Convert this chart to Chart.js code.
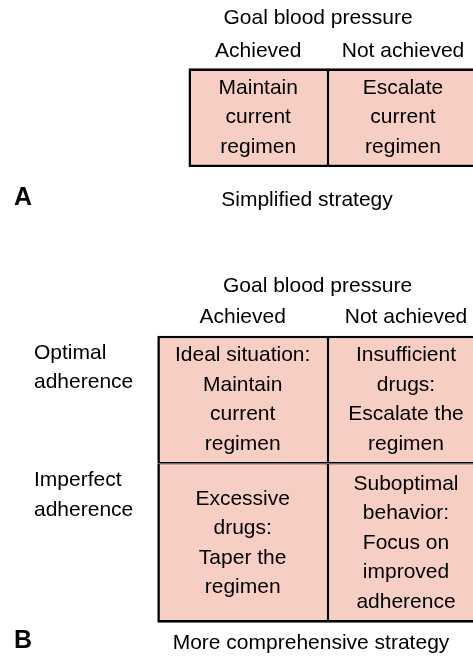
<!DOCTYPE html>
<html>
<head>
<meta charset="utf-8">
<script src="https://cdn.jsdelivr.net/npm/chart.js@4.4.1/dist/chart.umd.min.js"></script>
<style>
  html, body { margin: 0; padding: 0; background: #fff; overflow: hidden; }
  #wrap { position: relative; width: 473px; height: 659px; overflow: hidden; }
  canvas { position: absolute; left: 0; }
  #panelA { top: 0; }
  #panelB { top: 232px; }
</style>
</head>
<body>
<div id="wrap">
  <canvas id="panelA" width="520" height="232"></canvas>
  <canvas id="panelB" width="520" height="427"></canvas>
</div>
<script>
// columns = goal blood pressure, rows = adherence
const columnLabels = ["Achieved", "Not achieved"];
const rowLabels = [["Optimal", "adherence"], ["Imperfect", "adherence"]];
const axisTitle = "Goal blood pressure";

// panel A - one row of advice per column
const cellsA = [
    ["Maintain", "current", "regimen"],
    ["Escalate", "current", "regimen"]
];

// panel B - rows x columns
const cellsB = [
    [["Ideal situation:", "Maintain", "current", "regimen"], ["Insufficient", "drugs:", "Escalate the", "regimen"]],
    [["Excessive", "drugs:", "Taper the", "regimen"], ["Suboptimal", "behavior:", "Focus on", "improved", "adherence"]]
];

const captionA = ["A", "Simplified strategy"];
const captionB = ["B", "More comprehensive strategy"];

const FONT = "'Liberation Sans', Arial, Helvetica, sans-serif";
const FILL = "#f6cec4";
const LINE = "#000";
const EDGE = 2.6, INNER = 1.3;
const LINE_H = 29.5;

Chart.defaults.font.family = FONT;
Chart.defaults.color = "#000";

// row height follows the number of text lines in that row
const rowSizeB = cellsB.map(row => Math.max(...row.map(c => c.length)));
const rowSizeA = Math.max(...cellsA.map(c => c.length));

const sides = (col, row, nRows) => ({
    left: col === 0 ? EDGE : INNER,
    right: col === columnLabels.length - 1 ? EDGE : INNER,
    top: row === 0 ? EDGE : INNER,
    bottom: row === nRows - 1 ? EDGE : INNER
});

// draws the advice text inside each cell + free labels
const cellText = {
    id: "cellText",
    afterDatasetsDraw(chart) {
        const ctx = chart.ctx;
        ctx.save();
        ctx.fillStyle = "#000";
        ctx.textAlign = "center";
        ctx.textBaseline = "middle";
        ctx.font = "21px " + FONT;
        chart.data.datasets.forEach((ds, i) => {
            chart.getDatasetMeta(i).data.forEach((bar, j) => {
                if (ds.data[j] == null) return;
                const cy = (bar.y + bar.base) / 2;
                const n = ds.lines.length;
                ds.lines.forEach((t, k) => {
                    ctx.fillText(t, bar.x, cy + (k - (n - 1) / 2) * LINE_H);
                });
            });
        });
        const items = chart.options.plugins.cellText.items || [];
        items.forEach(it => {
            ctx.font = (it.bold ? "bold " : "") + it.size + "px " + FONT;
            ctx.textAlign = it.align || "center";
            ctx.fillText(it.text, it.x, it.y);
        });
        ctx.restore();
    }
};

const barStyle = {
    backgroundColor: FILL,
    borderColor: LINE,
    borderSkipped: false,
    inflateAmount: 0,
    grouped: false,
    clip: false
};

const topAxis = (height, pad) => ({
    type: "category",
    position: "top",
    stacked: true,
    grid: { display: false, drawTicks: false },
    border: { display: false },
    ticks: { padding: pad, font: { size: 21, lineHeight: 1.2 }, maxRotation: 0, autoSkip: false },
    afterFit: s => { s.height = height; s.paddingLeft = 0; s.paddingRight = 0; }
});

// ---- Panel A ----
const widthsA = [139.5, 150];
new Chart(document.getElementById("panelA"), {
    type: "bar",
    data: {
        labels: columnLabels,
        datasets: cellsA.map((lines, c) => Object.assign({
            data: columnLabels.map((_, i) => i === c ? rowSizeA : null),
            lines: lines,
            borderWidth: sides(c, 0, 1),
            barThickness: widthsA[c]
        }, barStyle))
    },
    options: {
        responsive: false,
        animation: false,
        layout: { padding: { left: 185.875, right: 44.625, top: 0, bottom: 65 } },
        scales: {
            x: topAxis(68.3, 4),
            y: { display: false, min: 0, max: rowSizeA, stacked: true }
        },
        plugins: {
            legend: { display: false },
            tooltip: { enabled: false },
            cellText: {
                items: [
                    { text: axisTitle, x: 318, y: 18, size: 21 },
                    { text: captionA[0], x: 14, y: 198, size: 25, bold: true, align: "left" },
                    { text: captionA[1], x: 307, y: 200, size: 21 }
                ]
            }
        }
    },
    plugins: [cellText]
});

// ---- Panel B ----
const widthsB = [170.7, 156];
const totalB = rowSizeB.reduce((a, b) => a + b, 0);
// value at the top edge of each row (rows stack from the bottom)
const rowTops = rowSizeB.map((_, r) => rowSizeB.slice(r).reduce((a, b) => a + b, 0));

const datasetsB = [];
for (let r = cellsB.length - 1; r >= 0; r--) {
    cellsB[r].forEach((lines, c) => {
        datasetsB.push(Object.assign({
            data: columnLabels.map((_, i) => i === c ? rowSizeB[r] : null),
            lines: lines,
            borderWidth: sides(c, r, cellsB.length),
            barThickness: widthsB[c]
        }, barStyle));
    });
}

new Chart(document.getElementById("panelB"), {
    type: "bar",
    data: { labels: columnLabels, datasets: datasetsB },
    options: {
        responsive: false,
        animation: false,
        layout: { padding: { left: 34, right: 32.325, top: 0, bottom: 36.3 } },
        scales: {
            x: topAxis(103.7, 5.6),
            y: {
                stacked: true,
                min: 0,
                max: totalB,
                position: "left",
                grid: { display: false, drawTicks: false },
                border: { display: false },
                afterBuildTicks: s => { s.ticks = rowTops.slice().reverse().map(v => ({ value: v })); },
                ticks: {
                    crossAlign: "far",
                    padding: 0,
                    labelOffset: 32,
                    font: { size: 21, lineHeight: 1.4 },
                    callback: v => rowLabels[rowTops.indexOf(v)]
                },
                afterFit: s => { s.width = 160.975 - 34; s.paddingTop = 0; s.paddingBottom = 0; }
            }
        },
        plugins: {
            legend: { display: false },
            tooltip: { enabled: false },
            cellText: {
                items: [
                    { text: axisTitle, x: 317.5, y: 54, size: 21 },
                    { text: captionB[0], x: 14, y: 409.5, size: 25, bold: true, align: "left" },
                    { text: captionB[1], x: 311, y: 411, size: 21 }
                ]
            }
        }
    },
    plugins: [cellText]
});
</script>
</body>
</html>
